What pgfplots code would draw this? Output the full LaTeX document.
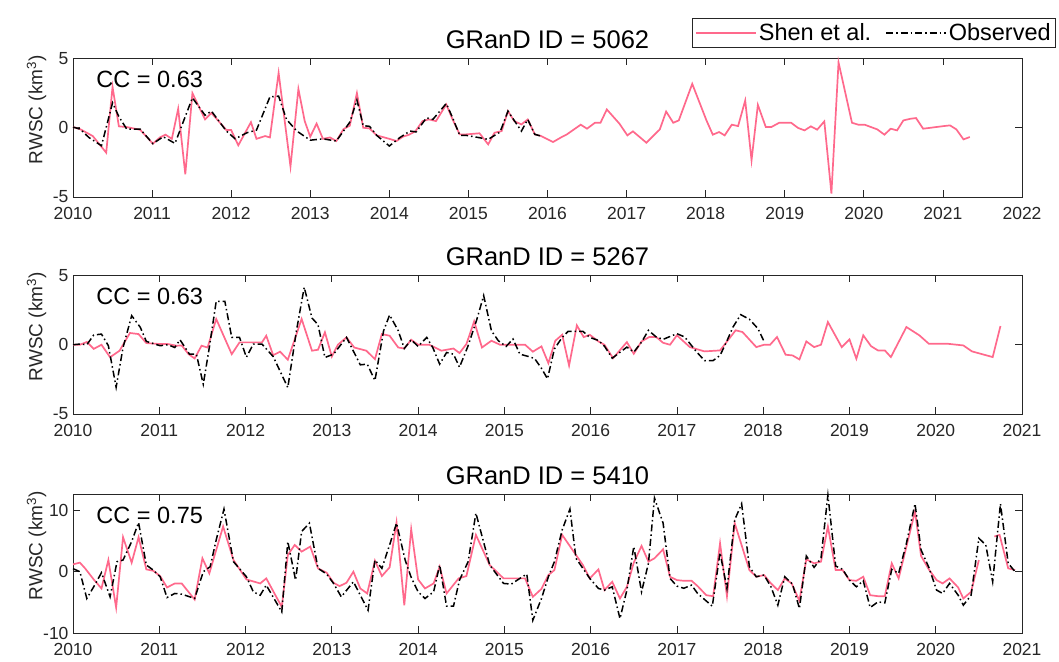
\documentclass[border=0pt]{standalone}
\usepackage{fontspec}
\setmainfont{Liberation Sans}
\usepackage{pgfplots}
\usepackage{pgfplotstable}
\pgfplotsset{compat=1.18}
\definecolor{shen}{RGB}{255,105,140}
\definecolor{axgray}{RGB}{38,38,38}

\pgfplotstableread{
t v
2010.00 0.05
2010.09 -0.1
2010.25 -0.6
2010.42 -1.8
2010.50 2.95
2010.58 0.1
2010.68 0.05
2010.85 -0.15
2011.01 -1.15
2011.10 -0.7
2011.17 -0.5
2011.25 -0.8
2011.33 1.37
2011.42 -3.36
2011.51 2.5
2011.67 0.6
2011.75 1.07
2011.94 -0.17
2012.00 -0.17
2012.09 -1.27
2012.25 0.4
2012.32 -0.8
2012.43 -0.6
2012.49 -0.7
2012.60 3.96
2012.75 -2.8
2012.85 2.8
2012.93 0.48
2013.00 -0.65
2013.08 0.3
2013.16 -0.8
2013.25 -0.7
2013.33 -0.96
2013.42 -0.1
2013.50 0.15
2013.59 2.5
2013.67 0.0
2013.75 -0.05
2013.84 -0.55
2014.00 -0.8
2014.09 -0.96
2014.17 -0.65
2014.25 -0.5
2014.33 -0.25
2014.42 0.48
2014.50 0.6
2014.59 0.48
2014.72 1.68
2014.80 0.6
2014.89 -0.48
2014.97 -0.48
2015.14 -0.4
2015.25 -1.2
2015.33 -0.36
2015.42 -0.24
2015.50 1.2
2015.58 0.48
2015.67 0.24
2015.75 0.6
2015.84 -0.48
2015.92 -0.6
2016.07 -1.03
2016.18 -0.67
2016.24 -0.5
2016.42 0.22
2016.50 -0.07
2016.60 0.36
2016.67 0.36
2016.75 1.32
2016.91 0.29
2017.01 -0.55
2017.08 -0.26
2017.25 -1.08
2017.42 -0.12
2017.50 1.17
2017.59 0.36
2017.66 0.53
2017.83 3.17
2018.01 0.53
2018.09 -0.5
2018.17 -0.31
2018.24 -0.55
2018.33 0.22
2018.41 0.12
2018.50 1.97
2018.58 -2.35
2018.66 1.65
2018.76 0.05
2018.83 0.05
2018.93 0.36
2019.08 0.36
2019.17 -0.02
2019.25 -0.19
2019.33 0.1
2019.41 -0.14
2019.50 0.46
2019.59 -4.75
2019.68 4.72
2019.85 0.36
2019.93 0.22
2020.01 0.22
2020.17 -0.12
2020.26 -0.5
2020.34 -0.07
2020.42 -0.19
2020.50 0.53
2020.59 0.65
2020.66 0.7
2020.75 -0.07
2021.01 0.12
2021.09 0.17
2021.17 -0.12
2021.26 -0.84
2021.34 -0.67
}\shenA

\pgfplotstableread{
t v
2010.00 0.05
2010.09 -0.1
2010.20 -0.7
2010.36 -1.3
2010.50 1.8
2010.58 0.8
2010.68 -0.1
2010.85 -0.1
2011.01 -1.15
2011.14 -0.65
2011.29 -1.13
2011.51 2.16
2011.67 0.9
2011.75 1.2
2011.94 -0.24
2012.05 -0.8
2012.20 -0.36
2012.32 -0.17
2012.49 2.23
2012.60 2.28
2012.70 0.6
2012.83 -0.24
2013.00 -0.9
2013.16 -0.8
2013.33 -0.96
2013.50 0.4
2013.59 2.0
2013.67 0.15
2013.75 0.1
2013.84 -0.55
2014.00 -1.32
2014.13 -0.72
2014.26 -0.24
2014.34 -0.3
2014.47 0.72
2014.55 0.6
2014.72 1.75
2014.80 0.72
2014.89 -0.55
2014.97 -0.55
2015.14 -0.72
2015.25 -0.84
2015.40 -0.31
2015.50 1.2
2015.57 0.6
2015.67 -0.24
2015.75 0.6
2015.84 -0.48
2015.92 -0.6
}\obsA

\pgfplotstableread{
t v
2010.00 0.0
2010.08 0.0
2010.16 0.2
2010.24 -0.3
2010.33 0.0
2010.43 -0.9
2010.54 -0.43
2010.66 0.85
2010.76 0.77
2010.85 0.12
2011.01 0.05
2011.10 0.05
2011.20 -0.07
2011.26 -0.05
2011.34 -0.68
2011.41 -0.99
2011.49 -0.07
2011.56 -0.2
2011.66 1.86
2011.84 -0.68
2011.93 0.17
2012.19 0.17
2012.24 0.65
2012.32 -0.75
2012.40 -0.5
2012.49 -1.08
2012.65 1.86
2012.77 -0.43
2012.84 -0.36
2012.92 0.9
2013.00 -0.85
2013.07 0.0
2013.17 0.53
2013.26 -0.2
2013.40 -0.43
2013.50 -1.04
2013.58 0.77
2013.67 0.65
2013.77 -0.2
2013.84 -0.27
2013.92 0.36
2014.00 0.0
2014.13 0.0
2014.27 -0.43
2014.41 -0.27
2014.48 -0.6
2014.56 0.05
2014.65 1.69
2014.74 -0.2
2014.85 0.29
2014.95 0.0
2015.10 0.0
2015.24 0.0
2015.33 -0.5
2015.43 -0.12
2015.51 -1.33
2015.59 0.29
2015.67 0.72
2015.75 -1.5
2015.84 1.4
2015.92 0.55
2015.99 0.72
2016.09 0.24
2016.16 0.0
2016.26 -0.97
2016.42 0.19
2016.50 -0.65
2016.59 0.24
2016.68 0.56
2016.76 0.56
2016.84 0.14
2016.92 0.0
2017.00 0.68
2017.15 -0.17
2017.32 -0.48
2017.50 -0.41
2017.59 0.31
2017.68 1.04
2017.76 0.92
2017.92 -0.17
2018.01 0.0
2018.08 0.0
2018.16 0.56
2018.26 -0.72
2018.34 -0.77
2018.42 -1.06
2018.50 0.24
2018.59 -0.17
2018.67 0.0
2018.75 1.64
2018.91 -0.17
2019.00 0.39
2019.08 -1.01
2019.16 0.68
2019.25 -0.1
2019.33 -0.41
2019.41 -0.41
2019.48 -0.89
2019.66 1.28
2019.81 0.68
2019.92 0.07
2020.14 0.07
2020.32 -0.05
2020.42 -0.48
2020.66 -0.89
2020.75 1.35
}\shenB

\pgfplotstableread{
t v
2010.00 0.0
2010.08 0.05
2010.16 0.0
2010.24 0.7
2010.33 0.77
2010.41 -0.07
2010.50 -3.07
2010.58 -0.2
2010.68 2.1
2010.78 1.26
2010.85 0.24
2011.01 -0.07
2011.10 0.0
2011.18 -0.2
2011.24 0.36
2011.35 -0.68
2011.43 -0.68
2011.51 -2.85
2011.58 -0.2
2011.66 3.14
2011.76 3.14
2011.84 0.53
2011.93 0.53
2012.01 -0.9
2012.09 0.05
2012.19 0.05
2012.32 -0.85
2012.49 -3.09
2012.59 1.01
2012.68 4.15
2012.77 1.93
2012.84 1.45
2012.92 -0.92
2013.02 -0.68
2013.17 0.53
2013.33 -1.45
2013.41 -1.4
2013.50 -2.58
2013.60 1.01
2013.67 2.15
2013.77 1.01
2013.84 -0.27
2013.92 0.36
2014.00 -0.12
2014.10 0.53
2014.17 -0.2
2014.25 -1.4
2014.33 -0.56
2014.41 -0.68
2014.48 -1.62
2014.58 -0.07
2014.68 1.81
2014.76 3.55
2014.85 1.01
2014.93 0.29
2015.02 -0.12
2015.10 0.41
2015.18 -0.68
2015.28 -0.85
2015.35 -0.99
2015.43 -1.7
2015.50 -2.46
2015.58 -0.3
2015.67 0.53
2015.74 0.97
2015.83 0.97
2015.91 0.97
2015.99 0.53
2016.09 0.31
2016.16 -0.1
2016.25 -0.97
2016.42 -0.17
2016.50 -0.53
2016.59 0.19
2016.67 1.04
2016.76 0.56
2016.84 0.39
2017.00 0.8
2017.09 0.56
2017.23 -0.53
2017.32 -1.14
2017.42 -1.14
2017.50 -0.77
2017.57 0.14
2017.65 1.28
2017.74 2.17
2017.84 1.84
2017.94 1.16
2018.01 0.24
}\obsB

\pgfplotstableread{
t v
2010.00 1.2
2010.08 1.48
2010.14 0.55
2010.24 -1.26
2010.33 -2.73
2010.41 1.91
2010.50 -5.85
2010.58 5.63
2010.68 1.48
2010.76 5.63
2010.85 0.38
2010.93 0.16
2011.01 -0.71
2011.09 -2.57
2011.18 -1.91
2011.26 -1.91
2011.41 -4.54
2011.50 2.19
2011.58 -0.27
2011.74 7.38
2011.86 1.91
2012.01 -1.26
2012.17 -1.91
2012.24 -1.09
2012.42 -5.74
2012.49 2.73
2012.57 4.37
2012.65 3.28
2012.75 4.1
2012.84 0.55
2012.94 -0.16
2013.02 -1.8
2013.09 -2.35
2013.17 -1.8
2013.25 0.0
2013.33 -2.73
2013.41 -3.55
2013.50 1.8
2013.58 -0.71
2013.67 0.71
2013.75 8.03
2013.84 -5.46
2013.92 6.94
2014.00 -1.26
2014.08 -2.73
2014.18 -1.91
2014.25 0.82
2014.33 -3.55
2014.47 -1.09
2014.56 -0.71
2014.67 6.01
2014.83 1.09
2014.99 -1.09
2015.24 -1.09
2015.33 -4.1
2015.43 -2.8
2015.51 -0.55
2015.58 0.27
2015.67 6.01
2015.83 2.73
2015.91 1.09
2015.99 -1.09
2016.09 0.38
2016.16 -3.0
2016.25 -1.64
2016.34 -4.37
2016.42 -2.46
2016.50 1.48
2016.59 4.21
2016.67 1.64
2016.74 2.19
2016.84 3.66
2016.92 -0.82
2017.00 -1.37
2017.08 -1.48
2017.17 -1.48
2017.24 -2.35
2017.34 -3.83
2017.42 -3.99
2017.50 4.64
2017.58 -3.99
2017.67 7.92
2017.84 0.27
2017.92 -0.82
2018.01 -0.55
2018.09 -1.91
2018.17 -3.0
2018.25 -1.09
2018.33 -1.91
2018.42 -4.75
2018.50 2.02
2018.59 1.37
2018.67 1.64
2018.75 7.38
2018.84 0.27
2018.92 0.27
2019.00 -1.37
2019.08 -1.48
2019.16 -0.82
2019.24 -3.83
2019.33 -3.99
2019.41 -3.99
2019.49 1.37
2019.57 -1.09
2019.76 9.84
2019.83 2.57
2019.92 0.38
2020.01 -1.37
2020.08 -1.91
2020.16 -1.09
2020.26 -2.57
2020.32 -4.37
2020.41 -3.28
2020.50 1.91
2020.59 nan
2020.68 5.74
2020.74 6.01
2020.84 0.55
2020.92 0.27
}\shenC

\pgfplotstableread{
t v
2010.00 0.5
2010.08 0.0
2010.16 -4.37
2010.24 -2.46
2010.33 -0.16
2010.43 -4.1
2010.51 1.64
2010.58 1.91
2010.68 4.92
2010.76 8.03
2010.85 1.09
2010.93 0.27
2011.01 -0.82
2011.09 -4.21
2011.18 -3.55
2011.26 -3.66
2011.41 -4.37
2011.51 0.0
2011.59 0.82
2011.66 5.19
2011.75 10.22
2011.86 1.64
2012.01 -0.82
2012.09 -3.28
2012.17 -3.83
2012.24 -2.19
2012.42 -6.56
2012.49 4.92
2012.58 -1.37
2012.65 6.56
2012.74 7.92
2012.84 0.55
2012.94 -0.38
2013.02 -1.91
2013.11 -4.1
2013.25 -1.64
2013.33 -3.83
2013.42 -6.28
2013.50 1.91
2013.58 0.55
2013.67 4.37
2013.75 7.92
2013.85 1.91
2013.92 -0.93
2014.00 -3.28
2014.08 -4.37
2014.18 -3.28
2014.25 1.09
2014.33 -5.63
2014.41 -5.63
2014.48 -1.37
2014.58 1.64
2014.67 9.56
2014.83 1.09
2014.99 -1.91
2015.08 -2.02
2015.18 -1.09
2015.26 -0.38
2015.33 -7.92
2015.43 -4.37
2015.51 -0.82
2015.58 1.64
2015.67 6.83
2015.76 10.22
2015.83 2.19
2015.99 -1.09
2016.09 -2.73
2016.16 -3.0
2016.25 -2.46
2016.34 -7.65
2016.42 -3.0
2016.50 4.1
2016.59 -3.28
2016.67 1.37
2016.74 12.02
2016.84 7.92
2016.92 -1.09
2017.00 -2.35
2017.08 -2.7
2017.17 -2.19
2017.24 -3.55
2017.41 -5.63
2017.50 3.11
2017.58 -2.73
2017.67 8.47
2017.75 11.09
2017.84 0.82
2017.92 -0.82
2018.01 -0.55
2018.09 -2.46
2018.17 -5.46
2018.25 -0.82
2018.34 -2.02
2018.42 -6.01
2018.50 2.57
2018.59 0.71
2018.67 2.19
2018.75 12.5
2018.84 0.93
2018.92 0.4
2019.00 -1.37
2019.08 -2.46
2019.16 -1.48
2019.24 -5.85
2019.33 -4.92
2019.41 -5.08
2019.49 0.38
2019.57 -0.27
2019.66 4.64
2019.76 11.09
2019.83 3.55
2019.92 0.71
2020.01 -3.0
2020.08 -3.55
2020.16 -1.91
2020.26 -3.83
2020.32 -5.46
2020.41 -3.83
2020.50 5.46
2020.58 4.37
2020.66 -1.64
2020.75 11.09
2020.84 1.37
2020.92 0.0
}\obsC

\pgfplotsset{
  panel/.style={
    scale only axis, width=949pt, height=138.5pt,
    anchor=south west,
    axis line style={axgray, line width=0.7pt},
    every tick/.style={axgray, line width=0.7pt},
    major tick length=7pt,
    tick align=inside,
    tick pos=both,
    ticklabel style={font=\fontsize{17.5}{17.5}\selectfont, text=axgray},
    xticklabel style={yshift=-7pt},
    yticklabel style={xshift=-1pt},
    /pgf/number format/assume math mode=true,
    /pgf/number format/1000 sep={},
    clip=false,
    unbounded coords=jump,
  },
  shenline/.style={color=shen, line width=1.7pt, no markers},
  obsline/.style={color=black, line width=1.5pt, no markers, dash pattern=on 7pt off 3pt on 1.5pt off 3pt},
}
\newcommand{\paneltext}[2]{%
  \node[anchor=base, yshift=10pt, font=\fontsize{25.5}{25.5}\selectfont, text=black] at (axis description cs:0.5,1) {#1};
  \node[anchor=west, font=\fontsize{23.5}{23.5}\selectfont, text=black] at (axis description cs:0.021,0.85) {#2};
  \node[rotate=90, font=\fontsize{19}{19}\selectfont, text=axgray] at (axis description cs:-0.0385,0.63) {RWSC (km\textsuperscript{3})};
}

\begin{document}
\begin{tikzpicture}
\path[use as bounding box] (0pt,0pt) rectangle (1059pt,661pt);

\begin{axis}[panel, at={(73pt,464pt)},
  xmin=2010, xmax=2022, ymin=-5, ymax=5,
  xtick={2010,2011,...,2022}, ytick={-5,0,5},
  legend columns=2,
  legend style={at={(1.0358,1.08)}, anchor=south east, draw=axgray, line width=0.6pt,
    font=\fontsize{23.5}{23.5}\selectfont, inner xsep=3pt, inner ysep=3pt,
    /tikz/every even column/.append style={column sep=12pt}},
  legend cell align=left,
  legend image code/.code={\draw[#1] (0pt,0pt) -- (60pt,0pt);},
]
\addplot[shenline] table[x=t,y=v] {\shenA};
\addlegendentry{Shen et al.}
\addplot[obsline] table[x=t,y=v] {\obsA};
\addlegendentry{Observed}
\paneltext{GRanD ID = 5062}{CC = 0.63}
\end{axis}

\begin{axis}[panel, at={(73pt,247pt)},
  xmin=2010, xmax=2021, ymin=-5, ymax=5,
  xtick={2010,2011,...,2021}, ytick={-5,0,5},
]
\addplot[shenline] table[x=t,y=v] {\shenB};
\addplot[obsline] table[x=t,y=v] {\obsB};
\paneltext{GRanD ID = 5267}{CC = 0.63}
\end{axis}

\begin{axis}[panel, at={(73pt,28pt)},
  xmin=2010, xmax=2021, ymin=-10, ymax=12.6,
  xtick={2010,2011,...,2021}, ytick={-10,0,10},
]
\addplot[shenline] table[x=t,y=v] {\shenC};
\addplot[obsline] table[x=t,y=v] {\obsC};
\paneltext{GRanD ID = 5410}{CC = 0.75}
\end{axis}
\end{tikzpicture}
\end{document}
